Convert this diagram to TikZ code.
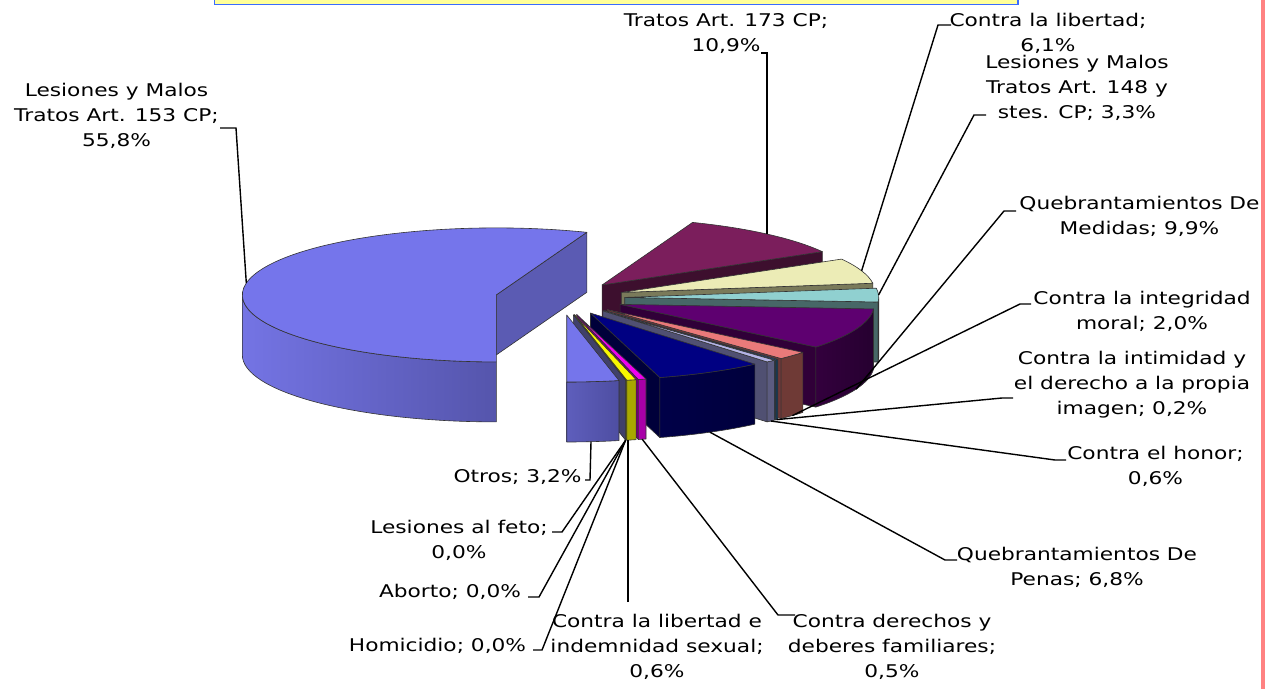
\documentclass[tikz,border=0pt]{standalone}
\usepackage{fontspec}
\setmainfont{DejaVu Sans}[FakeStretch=1.24]
\definecolor{titleyellow}{HTML}{FFFF99}
\definecolor{titleblue}{HTML}{3A6CFF}
\definecolor{pinkline}{HTML}{FF8282}
\definecolor{maintop}{HTML}{7575EB}
\definecolor{mainface}{HTML}{5B5BB3}
\definecolor{mainwL}{HTML}{7474E4}
\definecolor{mainwR}{HTML}{5555AC}
\definecolor{mTtop}{HTML}{7B1E5C}
\definecolor{mTface}{HTML}{3D0F2E}
\definecolor{libtop}{HTML}{ECECB6}
\definecolor{libface}{HTML}{7A7A5A}
\definecolor{tEtop}{HTML}{90D0D0}
\definecolor{tEface}{HTML}{476767}
\definecolor{tEwall}{HTML}{4F7575}
\definecolor{medtop}{HTML}{5E0070}
\definecolor{medface}{HTML}{300038}
\definecolor{medwL}{HTML}{33003D}
\definecolor{medwR}{HTML}{260030}
\definecolor{ingtop}{HTML}{EA7A7A}
\definecolor{ingface}{HTML}{6E3838}
\definecolor{ingwall}{HTML}{6F3A36}
\definecolor{imtop}{HTML}{1060B0}
\definecolor{imface}{HTML}{10304A}
\definecolor{imwall}{HTML}{183850}
\definecolor{hontop}{HTML}{B4B4E6}
\definecolor{honface}{HTML}{505072}
\definecolor{honwall}{HTML}{5C5C80}
\definecolor{pentop}{HTML}{000082}
\definecolor{penface}{HTML}{00003A}
\definecolor{penwL}{HTML}{000048}
\definecolor{penwR}{HTML}{00003C}
\definecolor{dertop}{HTML}{F000F0}
\definecolor{derface}{HTML}{700070}
\definecolor{derwall}{HTML}{A800A8}
\definecolor{sextop}{HTML}{F8F800}
\definecolor{sexface}{HTML}{707000}
\definecolor{sexwall}{HTML}{A8A800}
\definecolor{zeroface}{HTML}{40406A}
\definecolor{otrtop}{HTML}{7575EB}
\definecolor{otrwL}{HTML}{5E5EBC}
\definecolor{otrwR}{HTML}{4E4EA2}
% apex of an exploded slice from its two angles
\newcommand\SetApex[2]{\pgfmathsetmacro\Pm{((#1)+(#2))/2}%
  \coordinate (ap) at ({560+0.255*254*cos(\Pm)},{298-0.255*67*sin(\Pm)});}
% radial face at angle #1
\newcommand\RFace[2]{\filldraw[rimline,fill=#2] (ap) -- ([shift={({254*cos(#1)},{-67*sin(#1)})}]ap) -- ++(0,60) -- ([shift={(0,60)}]ap) -- cycle;}
% outer wall between angles #1 and #2
\newcommand\RWall[4]{\shadedraw[rimline,left color=#3,right color=#4] ([shift={({254*cos(#1)},{-67*sin(#1)})}]ap) arc[start angle={-(#1)},end angle={-(#2)},x radius=254,y radius=67] -- ++(0,60) arc[start angle={-(#2)},end angle={-(#1)},x radius=254,y radius=67] -- cycle;}
% top face between angles #1 and #2
\newcommand\RTop[3]{\filldraw[rimline,fill=#3] (ap) -- ([shift={({254*cos(#1)},{-67*sin(#1)})}]ap) arc[start angle={-(#1)},end angle={-(#2)},x radius=254,y radius=67] -- cycle;}
\begin{document}
\begin{tikzpicture}[x=1pt,y=-1pt,
  font=\fontsize{17.5}{25}\selectfont,
  lbl/.style={align=center,inner sep=0pt,anchor=base},
  leader/.style={draw=black,line width=1.4pt,line join=miter},
  rimline/.style={draw=black!80,line width=0.6pt,line join=round}]
\useasboundingbox (0,0) rectangle (1268,688);
\fill[white] (0,0) rectangle (1268,688);
% title box (cut by the top edge) and right border line
\draw[fill=titleyellow,draw=titleblue,line width=1.3pt] (214.5,-10) rectangle (1018,4.3);
\fill[pinkline] (1260.5,-1) rectangle (1265,689);

% ---------- main slice ----------
\SetApex{69.12}{270}
\RFace{69.12}{mainface}
\RWall{180}{270}{mainwL}{mainwR}
\RTop{69.12}{270}{maintop}
% ---------- right-hand slices, back to front ----------
\SetApex{29.88}{69.12}
\RFace{29.88}{mTface}
\RTop{29.88}{69.12}{mTtop}
\SetApex{7.92}{29.88}
\RFace{7.92}{libface}
\RTop{7.92}{29.88}{libtop}
\SetApex{-3.96}{7.92}
\RFace{-3.96}{tEface}
\RWall{-3.96}{0}{tEwall}{tEwall}
\RTop{-3.96}{7.92}{tEtop}
\SetApex{-39.6}{-3.96}
\RFace{-39.6}{medface}
\RWall{-39.6}{-3.96}{medwL}{medwR}
\RTop{-39.6}{-3.96}{medtop}
\SetApex{-46.8}{-39.6}
\RFace{-46.8}{ingface}
\RWall{-46.8}{-39.6}{ingwall}{ingwall}
\RTop{-46.8}{-39.6}{ingtop}
\SetApex{-47.52}{-46.8}
\RFace{-47.52}{imface}
\RWall{-47.52}{-46.8}{imwall}{imwall}
\RTop{-47.52}{-46.8}{imtop}
\SetApex{-49.68}{-47.52}
\RFace{-49.68}{honface}
\RWall{-49.68}{-47.52}{honwall}{honwall}
\RTop{-49.68}{-47.52}{hontop}
\SetApex{-74.16}{-49.68}
\RFace{-74.16}{penface}
\RWall{-74.16}{-49.68}{penwL}{penwR}
\RTop{-74.16}{-49.68}{pentop}
\SetApex{-75.96}{-74.16}
\RFace{-75.96}{derface}
\RWall{-75.96}{-74.16}{derwall}{derwall}
\RTop{-75.96}{-74.16}{dertop}
\SetApex{-78.12}{-75.96}
\RFace{-78.12}{sexface}
\RWall{-78.12}{-75.96}{sexwall}{sexwall}
\RTop{-78.12}{-75.96}{sextop}
\SetApex{-78.12}{-78.12}
\RFace{-78.12}{zeroface}
\SetApex{-90}{-78.12}
\RWall{-90}{-78.12}{otrwL}{otrwR}
\RTop{-90}{-78.12}{otrtop}

% ---------- labels (anchored at the baseline of their last line) ----------
\node[lbl] (l1) at (116.5,146) {Lesiones y Malos\\Tratos Art. 153 CP;\\55,8\%};
\node[lbl] (l2) at (726,51) {Tratos Art. 173 CP;\\10,9\%};
\node[lbl] (l3) at (1048,51.7) {Contra la libertad;\\6,1\%};
\node[lbl] (l4) at (1077,118) {Lesiones y Malos\\Tratos Art. 148 y\\stes. CP; 3,3\%};
\node[lbl] (l5) at (1139.5,234) {Quebrantamientos De\\Medidas; 9,9\%};
\node[lbl] (l6) at (1142,329) {Contra la integridad\\moral; 2,0\%};
\node[lbl] (l7) at (1132,414) {Contra la intimidad y\\el derecho a la propia\\imagen; 0,2\%};
\node[lbl] (l8) at (1155.5,484) {Contra el honor;\\0,6\%};
\node[lbl] (l9) at (1077,585) {Quebrantamientos De\\Penas; 6,8\%};
\node[lbl] (l10) at (892,677) {Contra derechos y\\deberes familiares;\\0,5\%};
\node[lbl] (l11) at (657,677) {Contra la libertad e\\indemnidad sexual;\\0,6\%};
\node[lbl] (l12) at (437.5,651) {Homicidio; 0,0\%};
\node[lbl] (l13) at (450,597) {Aborto; 0,0\%};
\node[lbl] (l14) at (459,558) {Lesiones al feto;\\0,0\%};
\node[lbl] (l15) at (517.5,482) {Otros; 3,2\%};

% ---------- leader lines ----------
\coordinate (a1) at (220,128);  \coordinate (b1) at (236,128);  \coordinate (p1) at (246.3,283);
\coordinate (a2) at (761,53);   \coordinate (b2) at (767,53);   \coordinate (p2) at (767,234);
\coordinate (a3) at (951,25);   \coordinate (b3) at (938,25);   \coordinate (p3) at (861.6,270.8);
\coordinate (a4) at (986,115);  \coordinate (b4) at (974,115);  \coordinate (p4) at (878.5,295.1);
\coordinate (a5) at (1016,211); \coordinate (b5) at (1004,211); \coordinate (p5) at (856,389.2);
\coordinate (a6) at (1031,304); \coordinate (b6) at (1020,304); \coordinate (p6) at (792.4,415.6);
\coordinate (a7) at (1013,398); \coordinate (b7) at (1002,398); \coordinate (p7) at (776.7,419.6);
\coordinate (a8) at (1066,460); \coordinate (b8) at (1055,460); \coordinate (p8) at (770.8,421);
\coordinate (a9) at (957,560);  \coordinate (b9) at (945,560);  \coordinate (p9) at (710,432.2);
\coordinate (a10) at (795,615); \coordinate (b10) at (778,615); \coordinate (p10) at (642.2,439.2);
\coordinate (b11) at (628,602); \coordinate (p11) at (628,440);
\coordinate (a12) at (533,650); \coordinate (b12) at (542,650);
\coordinate (a13) at (528,597); \coordinate (b13) at (539,597);
\coordinate (a14) at (552,532); \coordinate (b14) at (562,532);
\coordinate (p0) at (625.6,440.3);
\coordinate (a15) at (585,480); \coordinate (b15) at (590,480); \coordinate (p15) at (591,441.6);

\draw[leader] (a1) -- (b1) -- (p1);
\draw[leader] (a2) -- (b2) -- (p2);
\draw[leader] (a3) -- (b3) -- (p3);
\draw[leader] (a4) -- (b4) -- (p4);
\draw[leader] (a5) -- (b5) -- (p5);
\draw[leader] (a6) -- (b6) -- (p6);
\draw[leader] (a7) -- (b7) -- (p7);
\draw[leader] (a8) -- (b8) -- (p8);
\draw[leader] (a9) -- (b9) -- (p9);
\draw[leader] (a10) -- (b10) -- (p10);
\draw[leader] (b11) -- (p11);
\draw[leader] (a12) -- (b12) -- (p0);
\draw[leader] (a13) -- (b13) -- (p0);
\draw[leader] (a14) -- (b14) -- (p0);
\draw[leader] (a15) -- (b15) -- (p15);
\end{tikzpicture}
\end{document}
